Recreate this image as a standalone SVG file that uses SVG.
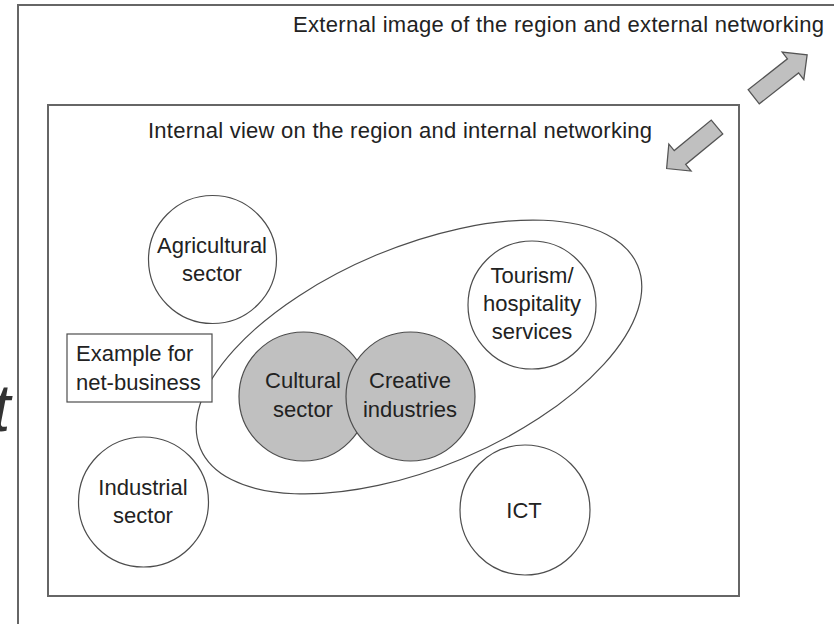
<svg xmlns="http://www.w3.org/2000/svg" width="834" height="624" viewBox="0 0 834 624">
  <style>
    .frame { fill: none; stroke: #666; stroke-width: 2; }
    .node { fill: #fff; stroke: #4d4d4d; stroke-width: 1.2; }
    .grey { fill: #c0c0c0; stroke: #4d4d4d; stroke-width: 1.2; }
    .arrow { fill: #c0c0c0; stroke: #555; stroke-width: 1.3; stroke-linejoin: miter; }
    text { font-family: "Liberation Sans", Arial, sans-serif; font-size: 22px; fill: #222; }
    .c { text-anchor: middle; }
    .big { font-size: 66px; font-style: italic; fill: #333; }
  </style>
  <defs>
    <polygon id="blockArrow" class="arrow" points="0,-9 50,-9 50,-17.5 68,0 50,17.5 50,9 0,9"/>
  </defs>
  <rect width="834" height="624" fill="#fff"/>

  <text class="big" x="-8" y="431">t</text>

  <g id="outer-frame">
    <rect class="frame" x="18" y="5" width="840" height="640"/>
    <text x="293" y="32" textLength="531" lengthAdjust="spacing">External image of the region and external networking</text>
  </g>

  <g id="inner-frame">
    <rect class="frame" x="48" y="105" width="691" height="491"/>
    <text x="148" y="138" textLength="504" lengthAdjust="spacing">Internal view on the region and internal networking</text>
  </g>

  <g id="connectors">
    <use href="#blockArrow" transform="translate(753.7,96.8) rotate(-38.2)"/>
    <use href="#blockArrow" transform="translate(717,127) rotate(140.5) scale(0.96,1)"/>
  </g>

  <g id="net-business-ellipse">
    <ellipse class="node" cx="419" cy="357" rx="237" ry="110.5" transform="rotate(-22.7 419 357)"/>
  </g>

  <g id="agricultural">
    <circle class="node" cx="212.5" cy="259.5" r="64"/>
    <text class="c" x="212" y="253">Agricultural</text>
    <text class="c" x="212" y="281">sector</text>
  </g>

  <g id="tourism">
    <circle class="node" cx="532" cy="305" r="64"/>
    <text class="c" x="532" y="283">Tourism/</text>
    <text class="c" x="532" y="311">hospitality</text>
    <text class="c" x="532" y="339">services</text>
  </g>

  <g id="industrial">
    <circle class="node" cx="143.5" cy="502" r="65"/>
    <text class="c" x="143" y="495">Industrial</text>
    <text class="c" x="143" y="523">sector</text>
  </g>

  <g id="ict">
    <circle class="node" cx="525" cy="510" r="65"/>
    <text class="c" x="524" y="518">ICT</text>
  </g>

  <g id="cultural">
    <circle class="grey" cx="303.5" cy="396.5" r="64.5"/>
    <text class="c" x="303" y="388">Cultural</text>
    <text class="c" x="303" y="417">sector</text>
  </g>

  <g id="creative">
    <circle class="grey" cx="410.5" cy="396.5" r="64.5"/>
    <text class="c" x="410" y="388">Creative</text>
    <text class="c" x="410" y="417">industries</text>
  </g>

  <g id="example">
    <rect class="node" x="67" y="334" width="145" height="68"/>
    <text x="76" y="361">Example for</text>
    <text x="76" y="390">net-business</text>
  </g>
</svg>
